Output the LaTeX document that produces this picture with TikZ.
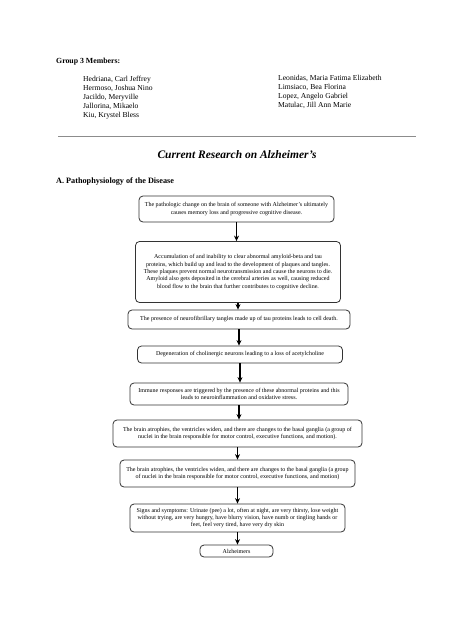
\documentclass[tikz,border=0pt]{standalone}
\usepackage{fontspec}
\setmainfont{Liberation Serif}
\usetikzlibrary{arrows.meta}

\tikzset{
    stepbox/.style={draw=black!80, line width=0.8pt, rounded corners=4pt, fill=white,
        align=center, inner sep=1pt, font=\fontsize{6}{7.3}\selectfont},
    flow/.style={-{Stealth[length=5.5pt,width=5pt]}, line width=1.3pt, black},
    names/.style={anchor=north west, align=left, inner sep=0pt, font=\fontsize{7.6}{9}\selectfont}
}

\begin{document}
\begin{tikzpicture}[x=1pt, y=-1pt]
    \fill[white] (0,0) rectangle (474,632);
    \useasboundingbox (0,0) rectangle (474,632);

    % Members
    \node[anchor=west, inner sep=0pt, font=\fontsize{7.8}{9}\selectfont\bfseries] (group) at (56,62) {Group 3 Members:};
    \node[names] (leftnames) at (83,75.5) {Hedriana, Carl Jeffrey\\Hermoso, Joshua Nino\\Jacildo, Meryville\\Jallorina, Mikaelo\\Kiu, Krystel Bless};
    \node[names] (rightnames) at (278,75.5) {Leonidas, Maria Fatima Elizabeth\\Limsiaco, Bea Florina\\Lopez, Angelo Gabriel\\Matulac, Jill Ann Marie};

    % Rule and title
    \coordinate (ruleL) at (58,136);
    \coordinate (ruleR) at (416,136);
    \draw[black!45, line width=1pt] (ruleL) -- (ruleR);
    \node[font=\fontsize{11.5}{13}\selectfont\bfseries\itshape] (title) at (237,155) {Current Research on Alzheimer's};
    \node[anchor=west, inner sep=0pt, font=\fontsize{8.2}{9}\selectfont\bfseries] (section) at (56,182) {A. Pathophysiology of the Disease};

    % Flow chart
    \node[stepbox, minimum width=195pt, minimum height=26pt] (change) at (236.5,209)
        {The pathologic change on the brain of someone with Alzheimer's ultimately\\causes memory loss and progressive cognitive disease.};
    \node[stepbox, minimum width=205pt, minimum height=61pt] (amyloid) at (238,272)
        {Accumulation of and inability to clear abnormal amyloid-beta and tau\\proteins, which build up and lead to the development of plaques and tangles.\\These plaques prevent normal neurotransmission and cause the neurons to die.\\Amyloid also gets deposited in the cerebral arteries as well, causing reduced\\blood flow to the brain that further contributes to cognitive decline.};
    \node[stepbox, minimum width=222pt, minimum height=19pt] (tangles) at (239,319.5)
        {The presence of neurofibrillary tangles made up of tau proteins leads to cell death.};
    \node[stepbox, minimum width=205pt, minimum height=17pt] (cholin) at (240,354.5)
        {Degeneration of cholinergic neurons leading to a loss of acetylcholine};
    \node[stepbox, minimum width=218pt, minimum height=22pt] (immune) at (239,394)
        {Immune responses are triggered by the presence of these abnormal proteins and this\\leads to neuroinflammation and oxidative stress.};
    \node[stepbox, minimum width=249pt, minimum height=27pt] (atrophyA) at (237.5,433.5)
        {The brain atrophies, the ventricles widen, and there are changes to the basal ganglia (a group of\\nuclei in the brain responsible for motor control, executive functions, and motion).};
    \node[stepbox, minimum width=235pt, minimum height=27pt] (atrophyB) at (237.5,473.5)
        {The brain atrophies, the ventricles widen, and there are changes to the basal ganglia (a group\\of nuclei in the brain responsible for motor control, executive functions, and motion)};
    \node[stepbox, minimum width=215pt, minimum height=28pt] (signs) at (237.5,518)
        {Signs and symptoms: Urinate (pee) a lot, often at night, are very thirsty, lose weight\\without trying, are very hungry, have blurry vision, have numb or tingling hands or\\feet, feel very tired, have very dry skin};
    \node[stepbox, minimum width=73pt, minimum height=12pt] (alz) at (236.5,551) {Alzheimers};

    % Arrows
    \draw[flow] (change.south) -- (change.south |- amyloid.north);
    \draw[flow] (amyloid.south) -- (amyloid.south |- tangles.north);
    \draw[flow] (tangles.south) -- (tangles.south |- cholin.north);
    \draw[flow] (cholin.south) -- (cholin.south |- immune.north);
    \draw[flow] (immune.south) -- (immune.south |- atrophyA.north);
    \draw[flow] (atrophyA.south) -- (atrophyA.south |- atrophyB.north);
    \draw[flow] (atrophyB.south) -- (atrophyB.south |- signs.north);
    \draw[flow] (signs.south) -- (signs.south |- alz.north);
\end{tikzpicture}
\end{document}
